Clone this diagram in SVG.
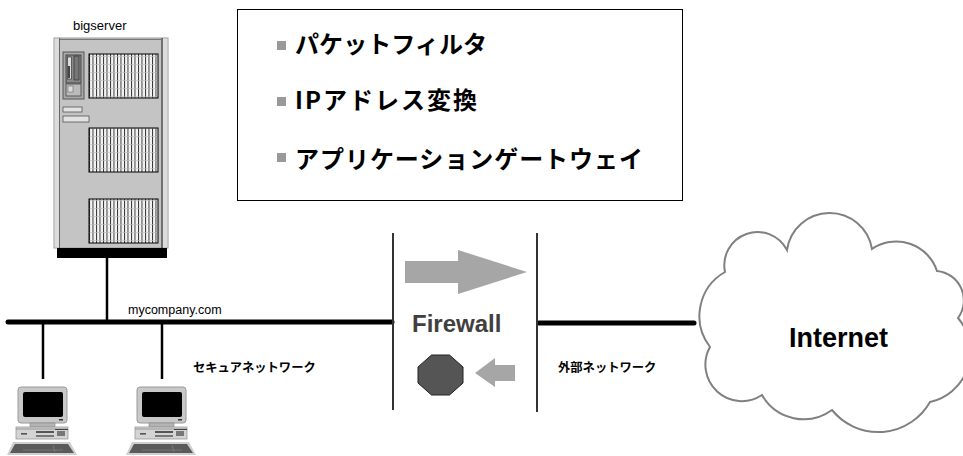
<svg xmlns="http://www.w3.org/2000/svg" width="963" height="456" viewBox="0 0 963 456">
  <style>
    .jp { font-family: "Noto Sans CJK JP", "Noto Sans CJK SC", sans-serif; font-weight: bold; fill: #000; }
    .lat { font-family: "Liberation Sans", Arial, sans-serif; fill: #000; }
    .net { stroke: #000; stroke-width: 5; stroke-linecap: round; fill: none; }
    .drop { stroke: #000; stroke-width: 2.5; fill: none; }
    .wall { stroke: #333; stroke-width: 2; fill: none; }
    .flow { fill: #a6a6a6; }
    .bullet { fill: #999; }
    .grill { fill: url(#grillPattern); stroke: #000; stroke-width: 1; }
  </style>
  <defs>
    <!-- ventilation grille of the server front -->
    <pattern id="grillPattern" patternUnits="userSpaceOnUse" x="89" y="0" width="3.5" height="8">
      <rect width="3.5" height="8" fill="#f4f4f4"/>
      <line x1="0.5" y1="0" x2="0.5" y2="8" stroke="#222" stroke-width="0.9"/>
      <line x1="0" y1="0.5" x2="3.5" y2="0.5" stroke="#bbb" stroke-width="0.6"/>
    </pattern>
    <!-- desktop PC, origin at the drop cable -->
    <g id="pc-shape">
      <rect x="-25" y="7" width="49" height="36" rx="3" fill="#c8c8c8" stroke="#9a9a9a"/>
      <rect x="-20" y="12" width="40" height="25" rx="2" fill="#000"/>
      <rect x="16" y="39" width="4" height="1.5" fill="#333"/>
      <rect x="-13" y="43" width="25" height="4" fill="#b4b4b4" stroke="#888" stroke-width="0.6"/>
      <rect x="-27" y="47" width="52" height="12" fill="#d4d4d4" stroke="#999" stroke-width="0.8"/>
      <line x1="-27" y1="49" x2="25" y2="49" stroke="#888" stroke-width="0.8"/>
      <rect x="-22" y="53" width="6" height="1.6" fill="#555"/>
      <rect x="-7" y="51" width="18" height="2" fill="#555"/>
      <rect x="-7" y="55" width="18" height="2" fill="#777"/>
      <rect x="14" y="51" width="8" height="5" fill="#777"/>
      <line x1="12" y1="49.5" x2="25" y2="49.5" stroke="#222" stroke-width="0.8"/>
      <polygon points="-30,62 27,62 34,75 -36,75" fill="#cfcfcf"/>
      <polygon points="-28,64 25,64 31,73 -33,73" fill="#5a5a5a"/>
      <line x1="-20" y1="70" x2="20" y2="70" stroke="#888" stroke-width="0.6"/>
      <line x1="10" y1="65" x2="12" y2="72" stroke="#888" stroke-width="0.6"/>
    </g>
  </defs>

  <rect width="963" height="456" fill="#fff"/>

  <!-- network cabling -->
  <g id="connectors">
    <line class="net" x1="8" y1="322" x2="392" y2="322"/>
    <line class="net" x1="539" y1="323" x2="694" y2="323"/>
    <line class="drop" x1="107" y1="258" x2="107" y2="322"/>
    <line class="drop" x1="43" y1="322" x2="43" y2="379"/>
    <line class="drop" x1="162" y1="322" x2="162" y2="379"/>
  </g>

  <!-- tower server -->
  <g id="bigserver">
    <text class="lat" x="73" y="29.5" font-size="13">bigserver</text>
    <rect x="54" y="38" width="114" height="210" fill="#c4c4c4" stroke="#999" stroke-width="1"/>
    <rect x="54.5" y="38.5" width="5" height="209" fill="#dcdcdc"/>
    <line x1="59.5" y1="38" x2="59.5" y2="248" stroke="#666" stroke-width="1"/>
    <rect x="162.5" y="38.5" width="5" height="209" fill="#dcdcdc"/>
    <line x1="162" y1="38" x2="162" y2="248" stroke="#333" stroke-width="1.2"/>
    <line x1="60" y1="39.5" x2="162" y2="39.5" stroke="#777" stroke-width="1"/>
    <rect class="grill" x="89" y="54" width="69" height="44"/>
    <rect class="grill" x="89" y="128" width="69" height="44"/>
    <rect class="grill" x="89" y="199" width="69" height="44"/>
    <rect x="63" y="52" width="21" height="47" fill="#a8a8a8" stroke="#555" stroke-width="1"/>
    <rect x="66" y="55" width="15" height="28" fill="#8a8a8a" stroke="#333" stroke-width="0.8"/>
    <rect x="67.5" y="57" width="4" height="22" fill="#ddd" stroke="#222" stroke-width="0.6"/>
    <rect x="74" y="56" width="5" height="24" fill="#777" stroke="#222" stroke-width="0.6"/>
    <rect x="68" y="66" width="2" height="12" fill="#444"/>
    <rect x="66" y="84" width="15" height="12" fill="#bbb" stroke="#444" stroke-width="0.8"/>
    <rect x="68" y="86" width="5" height="6" fill="#ddd" stroke="#555" stroke-width="0.5"/>
    <rect x="63" y="107" width="19" height="5" fill="#e2e2e2" stroke="#555" stroke-width="0.8"/>
    <rect x="63" y="116" width="26" height="6" fill="#e2e2e2" stroke="#555" stroke-width="0.8"/>
    <rect x="57" y="248" width="110" height="10" fill="#000"/>
  </g>

  <!-- client PCs -->
  <g id="pc1">
    <use href="#pc-shape" x="43" y="380"/>
  </g>
  <g id="pc2">
    <use href="#pc-shape" x="162" y="380"/>
  </g>

  <g id="lan-labels">
    <text class="lat" x="128" y="313.5" font-size="12.5">mycompany.com</text>
    <text class="jp" x="193" y="371.5" font-size="12.3">セキュアネットワーク</text>
  </g>

  <!-- firewall functions -->
  <g id="features">
    <rect x="237.5" y="9.5" width="445" height="191" fill="#fff" stroke="#000" stroke-width="1"/>
    <rect class="bullet" x="277" y="41" width="9" height="9"/>
    <text class="jp" x="295" y="52.5" font-size="24" textLength="192">パケットフィルタ</text>
    <rect class="bullet" x="277" y="97" width="9" height="9"/>
    <text class="jp" x="295" y="108.5" font-size="24" textLength="182">IPアドレス変換</text>
    <rect class="bullet" x="277" y="153" width="9" height="9"/>
    <text class="jp" x="295" y="168" font-size="24" textLength="348">アプリケーションゲートウェイ</text>
  </g>

  <!-- firewall -->
  <g id="firewall">
    <line class="wall" x1="393" y1="233" x2="393" y2="410"/>
    <line class="wall" x1="537" y1="233" x2="537" y2="412"/>
    <polygon class="flow" points="405,261 458,261 458,250 527,272 458,294 458,283 405,283"/>
    <text class="lat" x="412" y="332" font-size="24" font-weight="bold" style="fill:#404040">Firewall</text>
    <polygon points="431.5,355 449.5,355 463,367 463,383 449.5,395 431.5,395 418,383 418,367" fill="#555" stroke="#222" stroke-width="1"/>
    <polygon class="flow" points="475,373 495,358 495,365 515,365 515,381 495,381 495,387"/>
  </g>

  <g id="outside-label">
    <text class="jp" x="558" y="372" font-size="12.3">外部ネットワーク</text>
  </g>

  <!-- internet cloud -->
  <g id="internet">
    <path d="M710,347 A50.7,50.7 0 0 1 725,272 A33.2,33.2 0 0 1 787,250 A43,43 0 0 1 872,249 A43,43 0 0 1 937,271 A29.5,29.5 0 0 1 958,318 A51.7,51.7 0 0 1 930,402 A59.5,59.5 0 0 1 832,410 A48,48 0 0 1 762,395 A36.4,36.4 0 0 1 710,347 Z" fill="#fff" stroke="#808080" stroke-width="2"/>
    <text class="lat" x="789" y="347" font-size="27" font-weight="bold">Internet</text>
  </g>
</svg>
